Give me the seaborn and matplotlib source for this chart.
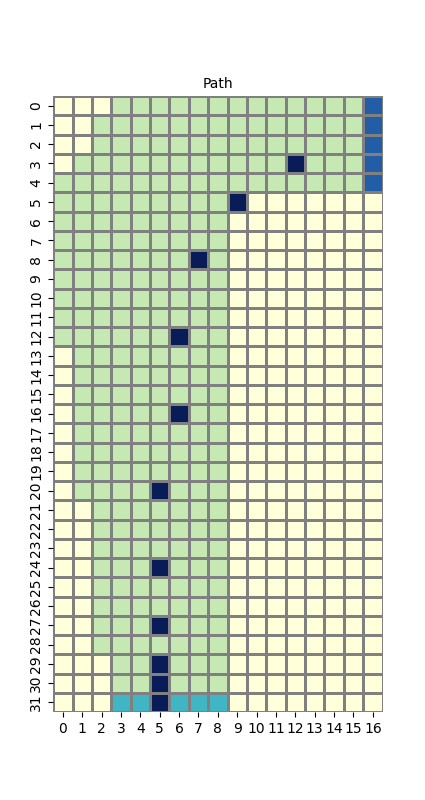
import numpy as np
import seaborn as sns
from matplotlib import pyplot as plt

# cell codes: 0 = free, 1 = visited, 2 = final path, 3 = goal column, 4 = obstacle
path_grid = [
    [0, 0, 0, 1, 1, 1, 1, 1, 1, 1, 1, 1, 1, 1, 1, 1, 3],
    [0, 0, 1, 1, 1, 1, 1, 1, 1, 1, 1, 1, 1, 1, 1, 1, 3],
    [0, 0, 1, 1, 1, 1, 1, 1, 1, 1, 1, 1, 1, 1, 1, 1, 3],
    [0, 1, 1, 1, 1, 1, 1, 1, 1, 1, 1, 1, 4, 1, 1, 1, 3],
    [1, 1, 1, 1, 1, 1, 1, 1, 1, 1, 1, 1, 1, 1, 1, 1, 3],
    [1, 1, 1, 1, 1, 1, 1, 1, 1, 4, 0, 0, 0, 0, 0, 0, 0],
    [1, 1, 1, 1, 1, 1, 1, 1, 1, 0, 0, 0, 0, 0, 0, 0, 0],
    [1, 1, 1, 1, 1, 1, 1, 1, 1, 0, 0, 0, 0, 0, 0, 0, 0],
    [1, 1, 1, 1, 1, 1, 1, 4, 1, 0, 0, 0, 0, 0, 0, 0, 0],
    [1, 1, 1, 1, 1, 1, 1, 1, 1, 0, 0, 0, 0, 0, 0, 0, 0],
    [1, 1, 1, 1, 1, 1, 1, 1, 1, 0, 0, 0, 0, 0, 0, 0, 0],
    [1, 1, 1, 1, 1, 1, 1, 1, 1, 0, 0, 0, 0, 0, 0, 0, 0],
    [1, 1, 1, 1, 1, 1, 4, 1, 1, 0, 0, 0, 0, 0, 0, 0, 0],
    [0, 1, 1, 1, 1, 1, 1, 1, 1, 0, 0, 0, 0, 0, 0, 0, 0],
    [0, 1, 1, 1, 1, 1, 1, 1, 1, 0, 0, 0, 0, 0, 0, 0, 0],
    [0, 1, 1, 1, 1, 1, 1, 1, 1, 0, 0, 0, 0, 0, 0, 0, 0],
    [0, 1, 1, 1, 1, 1, 4, 1, 1, 0, 0, 0, 0, 0, 0, 0, 0],
    [0, 1, 1, 1, 1, 1, 1, 1, 1, 0, 0, 0, 0, 0, 0, 0, 0],
    [0, 1, 1, 1, 1, 1, 1, 1, 1, 0, 0, 0, 0, 0, 0, 0, 0],
    [0, 1, 1, 1, 1, 1, 1, 1, 1, 0, 0, 0, 0, 0, 0, 0, 0],
    [0, 1, 1, 1, 1, 4, 1, 1, 1, 0, 0, 0, 0, 0, 0, 0, 0],
    [0, 0, 1, 1, 1, 1, 1, 1, 1, 0, 0, 0, 0, 0, 0, 0, 0],
    [0, 0, 1, 1, 1, 1, 1, 1, 1, 0, 0, 0, 0, 0, 0, 0, 0],
    [0, 0, 1, 1, 1, 1, 1, 1, 1, 0, 0, 0, 0, 0, 0, 0, 0],
    [0, 0, 1, 1, 1, 4, 1, 1, 1, 0, 0, 0, 0, 0, 0, 0, 0],
    [0, 0, 1, 1, 1, 1, 1, 1, 1, 0, 0, 0, 0, 0, 0, 0, 0],
    [0, 0, 1, 1, 1, 1, 1, 1, 1, 0, 0, 0, 0, 0, 0, 0, 0],
    [0, 0, 1, 1, 1, 4, 1, 1, 1, 0, 0, 0, 0, 0, 0, 0, 0],
    [0, 0, 1, 1, 1, 1, 1, 1, 1, 0, 0, 0, 0, 0, 0, 0, 0],
    [0, 0, 0, 1, 1, 4, 1, 1, 1, 0, 0, 0, 0, 0, 0, 0, 0],
    [0, 0, 0, 1, 1, 4, 1, 1, 1, 0, 0, 0, 0, 0, 0, 0, 0],
    [0, 0, 0, 2, 2, 4, 2, 2, 2, 0, 0, 0, 0, 0, 0, 0, 0],
]

grid = np.array(path_grid)

fig = plt.figure(figsize=(4.25, 8), dpi=100)
ax = sns.heatmap(grid, cmap="YlGnBu", vmin=0, vmax=4, cbar=False,
                 linewidths=1, linecolor="gray")
ax.set_title('Path', fontsize=10)
plt.savefig('out.png')
